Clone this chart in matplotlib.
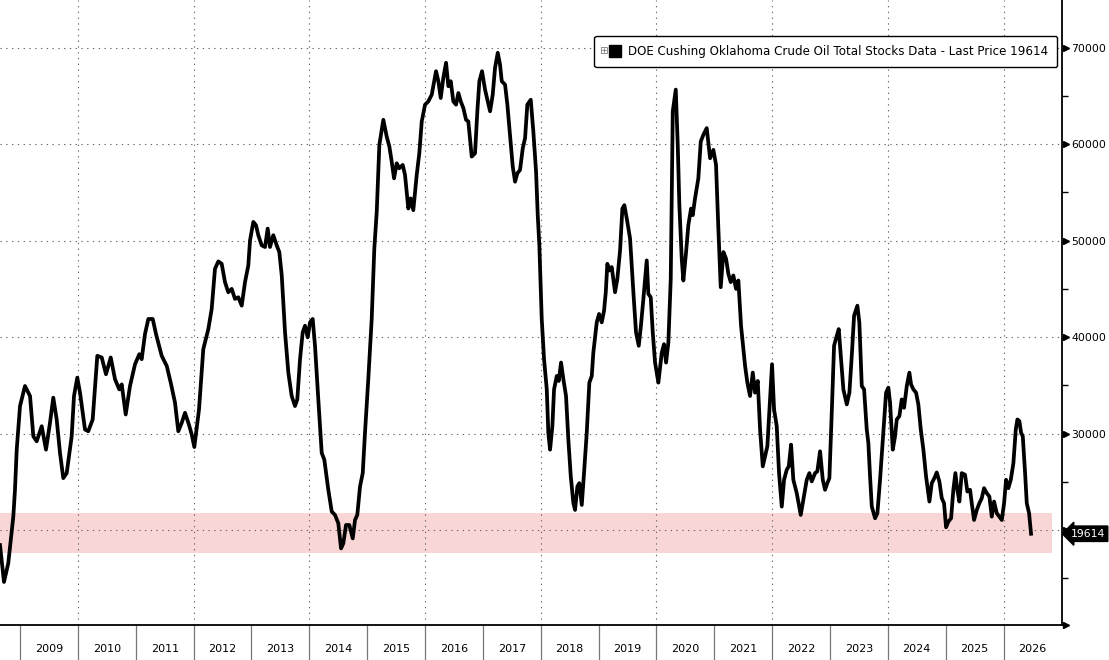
import matplotlib

matplotlib.use("Agg")
import matplotlib.pyplot as plt
from matplotlib.lines import Line2D
from matplotlib.ticker import FixedLocator, NullFormatter
import matplotlib.transforms as mtransforms

plt.rcParams["font.family"] = ["DejaVu Sans"]

# weekly Cushing crude stocks (thousand barrels)
dates = [
    2008.653, 2008.722, 2008.796, 2008.883, 2008.912, 2008.942, 2008.999, 2009.085,
    2009.172, 2009.229, 2009.287, 2009.374, 2009.448, 2009.517, 2009.574, 2009.633,
    2009.690, 2009.747, 2009.806, 2009.892, 2009.932, 2009.989, 2010.036, 2010.122,
    2010.179, 2010.255, 2010.335, 2010.411, 2010.485, 2010.567, 2010.641, 2010.715,
    2010.757, 2010.826, 2010.900, 2010.987, 2011.061, 2011.102, 2011.159, 2011.217,
    2011.293, 2011.350, 2011.448, 2011.535, 2011.604, 2011.678, 2011.735, 2011.794,
    2011.851, 2011.920, 2011.967, 2012.012, 2012.093, 2012.167, 2012.226, 2012.254,
    2012.312, 2012.369, 2012.427, 2012.485, 2012.542, 2012.599, 2012.658, 2012.715,
    2012.772, 2012.831, 2012.888, 2012.945, 2012.975, 2013.032, 2013.078, 2013.118,
    2013.177, 2013.234, 2013.280, 2013.320, 2013.377, 2013.436, 2013.481, 2013.523,
    2013.580, 2013.637, 2013.695, 2013.752, 2013.792, 2013.839, 2013.885, 2013.925,
    2013.972, 2014.012, 2014.058, 2014.098, 2014.155, 2014.214, 2014.259, 2014.328,
    2014.387, 2014.444, 2014.501, 2014.548, 2014.587, 2014.634, 2014.691, 2014.750,
    2014.790, 2014.829, 2014.876, 2014.923, 2014.962, 2015.019, 2015.078, 2015.123,
    2015.165, 2015.210, 2015.279, 2015.337, 2015.383, 2015.424, 2015.464, 2015.510,
    2015.555, 2015.614, 2015.654, 2015.711, 2015.752, 2015.797, 2015.856, 2015.901,
    2015.943, 2016.000, 2016.057, 2016.116, 2016.190, 2016.230, 2016.271, 2016.316,
    2016.363, 2016.403, 2016.444, 2016.489, 2016.536, 2016.576, 2016.617, 2016.662,
    2016.709, 2016.748, 2016.807, 2016.864, 2016.904, 2016.939, 2016.985, 2017.037,
    2017.077, 2017.124, 2017.170, 2017.210, 2017.257, 2017.296, 2017.326, 2017.383,
    2017.423, 2017.469, 2017.516, 2017.556, 2017.596, 2017.642, 2017.689, 2017.729,
    2017.768, 2017.827, 2017.872, 2017.919, 2017.948, 2017.976, 2018.017, 2018.057,
    2018.104, 2018.131, 2018.161, 2018.201, 2018.230, 2018.277, 2018.311, 2018.351,
    2018.391, 2018.437, 2018.477, 2018.519, 2018.564, 2018.593, 2018.633, 2018.667,
    2018.709, 2018.748, 2018.795, 2018.840, 2018.882, 2018.909, 2018.968, 2019.008,
    2019.054, 2019.094, 2019.124, 2019.151, 2019.186, 2019.227, 2019.284, 2019.324,
    2019.371, 2019.411, 2019.445, 2019.487, 2019.544, 2019.601, 2019.647, 2019.694,
    2019.729, 2019.774, 2019.832, 2019.860, 2019.901, 2019.936, 2019.976, 2020.033,
    2020.092, 2020.131, 2020.166, 2020.206, 2020.247, 2020.282, 2020.334, 2020.368,
    2020.396, 2020.437, 2020.465, 2020.512, 2020.551, 2020.598, 2020.627, 2020.667,
    2020.724, 2020.766, 2020.811, 2020.869, 2020.927, 2020.984, 2021.030, 2021.070,
    2021.111, 2021.157, 2021.203, 2021.243, 2021.284, 2021.329, 2021.376, 2021.416,
    2021.462, 2021.532, 2021.571, 2021.618, 2021.665, 2021.704, 2021.751, 2021.791,
    2021.838, 2021.877, 2021.917, 2021.964, 2021.998, 2022.033, 2022.079, 2022.119,
    2022.166, 2022.206, 2022.252, 2022.287, 2022.327, 2022.366, 2022.425, 2022.494,
    2022.539, 2022.598, 2022.643, 2022.684, 2022.742, 2022.781, 2022.828, 2022.875,
    2022.914, 2022.954, 2022.989, 2023.030, 2023.070, 2023.117, 2023.151, 2023.186,
    2023.231, 2023.290, 2023.335, 2023.376, 2023.416, 2023.473, 2023.507, 2023.549,
    2023.589, 2023.635, 2023.663, 2023.692, 2023.722, 2023.779, 2023.819, 2023.865,
    2023.922, 2023.969, 2024.009, 2024.038, 2024.085, 2024.124, 2024.154, 2024.199,
    2024.240, 2024.280, 2024.327, 2024.372, 2024.401, 2024.441, 2024.487, 2024.527,
    2024.569, 2024.614, 2024.660, 2024.718, 2024.759, 2024.804, 2024.845, 2024.890,
    2024.932, 2024.971, 2025.006, 2025.046, 2025.093, 2025.132, 2025.167, 2025.201,
    2025.236, 2025.277, 2025.334, 2025.374, 2025.421, 2025.450, 2025.490, 2025.537,
    2025.582, 2025.623, 2025.663, 2025.710, 2025.755, 2025.796, 2025.836, 2025.882,
    2025.927, 2025.969, 2026.009, 2026.043, 2026.083, 2026.125, 2026.170, 2026.211,
    2026.239, 2026.273, 2026.303, 2026.332, 2026.372, 2026.401, 2026.441, 2026.475,
]
stocks = [
    18440, 14610, 16560, 21390, 24170, 28330, 32850, 34930,
    33890, 29720, 29200, 30760, 28330, 31110, 33720, 31460,
    27990, 25380, 25900, 29720, 33890, 35800, 34240, 30420,
    30240, 31460, 38060, 37890, 36150, 37890, 35630, 34580,
    35100, 31980, 34930, 37190, 38230, 37710, 40310, 41880,
    41880, 40310, 38060, 37010, 35280, 33200, 30240, 31110,
    32150, 30900, 29900, 28600, 32500, 38750, 40140, 40830,
    42920, 47080, 47850, 47600, 45700, 44650, 45000, 43960,
    44130, 43260, 45700, 47430, 50040, 51940, 51600, 50560,
    49510, 49340, 51250, 49340, 50560, 49510, 48820, 46390,
    40490, 36320, 33890, 32850, 33540, 37710, 40490, 41180,
    39970, 41530, 41880, 39100, 33540, 27990, 27290, 24170,
    21910, 21560, 20690, 18090, 18610, 20520, 20520, 19130,
    21040, 21560, 24510, 25900, 30080, 35630, 41880, 49170,
    52990, 59930, 62530, 60800, 59760, 58190, 56460, 58020,
    57500, 57850, 56810, 53330, 54380, 53160, 56810, 59060,
    62360, 64100, 64440, 65140, 67570, 66530, 64790, 66880,
    68440, 66010, 66530, 64440, 64100, 65310, 64440, 63750,
    62530, 62360, 58720, 59060, 63410, 66530, 67570, 65660,
    64610, 63410, 65140, 67920, 69480, 68260, 66530, 66180,
    64100, 60970, 57680, 56110, 56980, 57330, 59580, 60630,
    64100, 64610, 61320, 57150, 52640, 49510, 41880, 37710,
    34580, 30080, 28330, 30760, 34580, 35970, 35450, 37360,
    35630, 33890, 29380, 25560, 22780, 22080, 24510, 24860,
    22600, 25900, 30080, 35280, 35970, 38400, 41530, 42400,
    41530, 42740, 44650, 47600, 46910, 47260, 44650, 46040,
    48990, 53330, 53680, 52290, 50210, 44650, 40490, 39100,
    41010, 43960, 47950, 44480, 44130, 40490, 37360, 35280,
    38400, 39270, 37360, 39440, 46040, 63410, 65660, 59930,
    53680, 48130, 45870, 48820, 51600, 53330, 52640, 54380,
    56460, 60280, 60970, 61670, 58540, 59410, 57850, 51250,
    45170, 48820, 48130, 46560, 45700, 46390, 45000, 45870,
    41180, 37010, 35280, 33890, 36320, 34240, 35450, 30420,
    26600, 27640, 28680, 33540, 37190, 32500, 30760, 25900,
    22430, 25210, 26250, 26600, 28850, 25210, 23820, 21560,
    23130, 25210, 25900, 25040, 25900, 26080, 28160, 25210,
    24170, 24860, 25380, 32150, 39100, 40140, 40830, 38060,
    34580, 33020, 34240, 38060, 42220, 43260, 41530, 34930,
    34580, 30420, 29030, 25560, 22430, 21220, 21740, 25210,
    30080, 34240, 34760, 33190, 28330, 29720, 31460, 31810,
    33540, 32670, 34930, 36320, 35100, 34580, 34240, 33020,
    30420, 28330, 25560, 22950, 24860, 25380, 25970, 25040,
    23300, 22780, 20280, 20870, 21220, 24170, 25900, 24170,
    22950, 25900, 25730, 23990, 24170, 22780, 21040, 22080,
    22780, 23300, 24340, 23820, 23470, 21390, 22950, 21740,
    21390, 21040, 22780, 25210, 24340, 25210, 26940, 30420,
    31460, 31290, 30080, 29720, 25900, 22780, 21740, 19614,
]

last_price = 19614
band = (17650, 21800)
year_labels = [str(y) for y in range(2009, 2027)]
y_labels = ["", "30000", "40000", "50000", "60000", "70000"]
legend_label = "DOE Cushing Oklahoma Crude Oil Total Stocks Data - Last Price 19614"

x0, x1 = 2008.653, 2027.01
y0, y1 = 10150, 74950

fig = plt.figure(figsize=(11.09, 6.6), dpi=100)
ax = fig.add_axes([0, 0.0530, 1062 / 1109, 0.947])
ax.set_xlim(x0, x1)
ax.set_ylim(y0, y1)

# support band and grid
ax.axhspan(band[0], band[1], xmin=0, xmax=(2026.84 - x0) / (x1 - x0),
           color="#f8d6d6", lw=0, zorder=0)
grid_kw = dict(color="#666666", lw=0.8, ls=(0, (1.2, 4)), zorder=1)
for yv in range(20000, 70001, 10000):
    ax.axhline(yv, **grid_kw)
for yr in range(2010, 2027, 2):
    ax.axvline(yr, **grid_kw)

ax.plot(dates, stocks, color="black", lw=2.7, solid_joinstyle="round", zorder=3)

# frame
for s in ("top", "left"):
    ax.spines[s].set_visible(False)
ax.spines["right"].set_linewidth(1.3)
ax.spines["bottom"].set_linewidth(1.3)

# y axis on the right
ax.yaxis.tick_right()
ax.set_yticks(range(20000, 70001, 10000))
ax.set_yticklabels(y_labels)
ax.tick_params(axis="y", which="major", length=0, pad=6.5, labelsize=7.8)
ax.yaxis.set_minor_locator(FixedLocator(range(15000, 75000, 10000)))
ax.tick_params(axis="y", which="minor", length=4, width=1, direction="out")
side_tr = mtransforms.blended_transform_factory(ax.transAxes, ax.transData)
arrow_levels = [y0] + list(range(20000, 70001, 10000))
ax.plot([1.004] * len(arrow_levels), arrow_levels, ls="none", marker=">", ms=5,
        color="black", transform=side_tr, clip_on=False)

# x axis: year separators and centred year labels
ax.set_xticks(range(2009, 2027))
ax.xaxis.set_major_formatter(NullFormatter())
ax.tick_params(axis="x", which="major", length=26, width=0.9, color="#777777", direction="out")
ax.set_xticks([y + 0.5 for y in range(2009, 2027)], minor=True)
ax.set_xticklabels(year_labels, minor=True)
ax.tick_params(axis="x", which="minor", length=0, pad=14, labelsize=8)

# last price tag
ax.annotate(str(last_price), xy=(1.0, last_price), xycoords=side_tr,
            xytext=(1.0082, last_price), textcoords=side_tr,
            va="center", ha="left", color="white", fontsize=7.8,
            bbox=dict(boxstyle="larrow,pad=0.25", fc="black", ec="black"),
            annotation_clip=False, zorder=6)

# legend
handle = Line2D([], [], ls="none", marker="s", ms=9, color="black")
leg = ax.legend([handle], [legend_label], loc="upper right",
                bbox_to_anchor=(1057 / 1062, 1 - 36 / 625), borderaxespad=0,
                fontsize=8.6, frameon=True, fancybox=True, framealpha=1,
                edgecolor="black", handlelength=1.9, handletextpad=0.15,
                borderpad=0.75)
leg.get_frame().set_linewidth(1.0)
leg.set_zorder(5)
fig.canvas.draw()
bb = leg.get_window_extent()
fig.text((bb.x0 + 9) / fig.bbox.width, (bb.y0 + bb.height / 2) / fig.bbox.height,
         "\u229e", fontsize=7.5, color="#777777", va="center", ha="center", zorder=6)

fig.savefig("out.png", dpi=100)
